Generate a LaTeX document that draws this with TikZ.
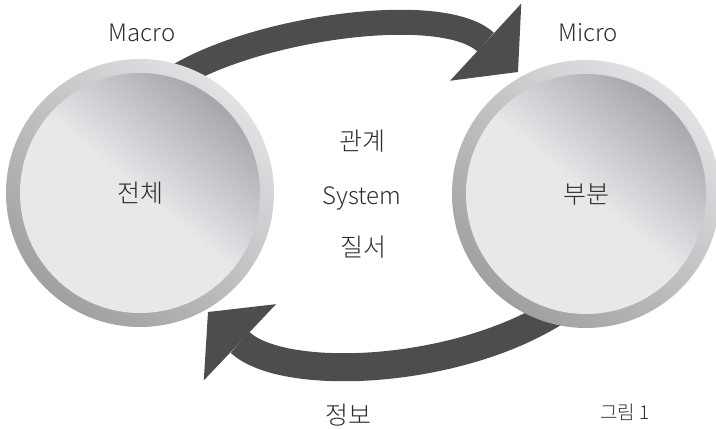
\documentclass[tikz,border=0pt]{standalone}
\usepackage{fontspec}
\setmainfont{Noto Sans CJK KR}[UprightFont={* Light}]
\usetikzlibrary{arrows.meta,backgrounds}
\definecolor{arrowgray}{RGB}{77,77,77}
\definecolor{rimdark}{RGB}{160,160,162}
\definecolor{rimlight}{RGB}{226,226,228}
\definecolor{facedark}{RGB}{166,167,171}
\definecolor{facelight}{RGB}{231,232,234}
\definecolor{textgray}{RGB}{45,45,45}

\tikzset{
  rim/.style={circle, minimum size=268pt, inner sep=0pt,
    top color=rimlight, bottom color=rimdark, shading angle=-40},
  face/.style={circle, minimum size=240pt, inner sep=0pt,
    top color=facedark, bottom color=facelight, middle color=facelight,
    shading angle=-40, text=textgray, font=\fontsize{25}{30}\selectfont},
  bigarrow/.style={arrowgray, line width=#1,
    -{Triangle[width=105pt, length=44pt, line width=0pt]}},
  note/.style={text=textgray, inner sep=0pt, font=\fontsize{24}{28}\selectfont},
}

\begin{document}
\begin{tikzpicture}[x=1pt, y=-1pt]
\useasboundingbox (0,0) rectangle (716,429);

% the two discs
\node[rim] (wholerim) at (140,193) {};
\node[face] (whole) at (140,193) {전체};
\node[rim] (partrim) at (586,194) {};
\node[face] (part) at (586,194) {부분};

% arrow tips
\coordinate (microtip) at (518,72);
\coordinate (macrotip) at (208,312);

% arrows, behind the discs
\begin{pgfonlayer}{background}
\draw[bigarrow=25pt] (whole.center) -- (166,84)
  .. controls (240,30) and (440,0) .. (microtip);
\draw[bigarrow=28pt] (part.center) -- (578,296)
  .. controls (480,375) and (285,385) .. (macrotip);
\end{pgfonlayer}

% labels
\node[note] (macro) at (142,33) {Macro};
\node[note] (micro) at (588,33) {Micro};
\node[note, font=\fontsize{25}{30}\selectfont] (relation) at (362,141) {관계};
\node[note] (system) at (362,198) {System};
\node[note, font=\fontsize{25}{30}\selectfont] (order) at (363,247) {질서};
\node[note, font=\fontsize{25}{30}\selectfont] (info) at (348,415) {정보};
\node[note, font=\fontsize{19}{22}\selectfont] (figno) at (625,412) {그림 1};
\end{tikzpicture}
\end{document}
